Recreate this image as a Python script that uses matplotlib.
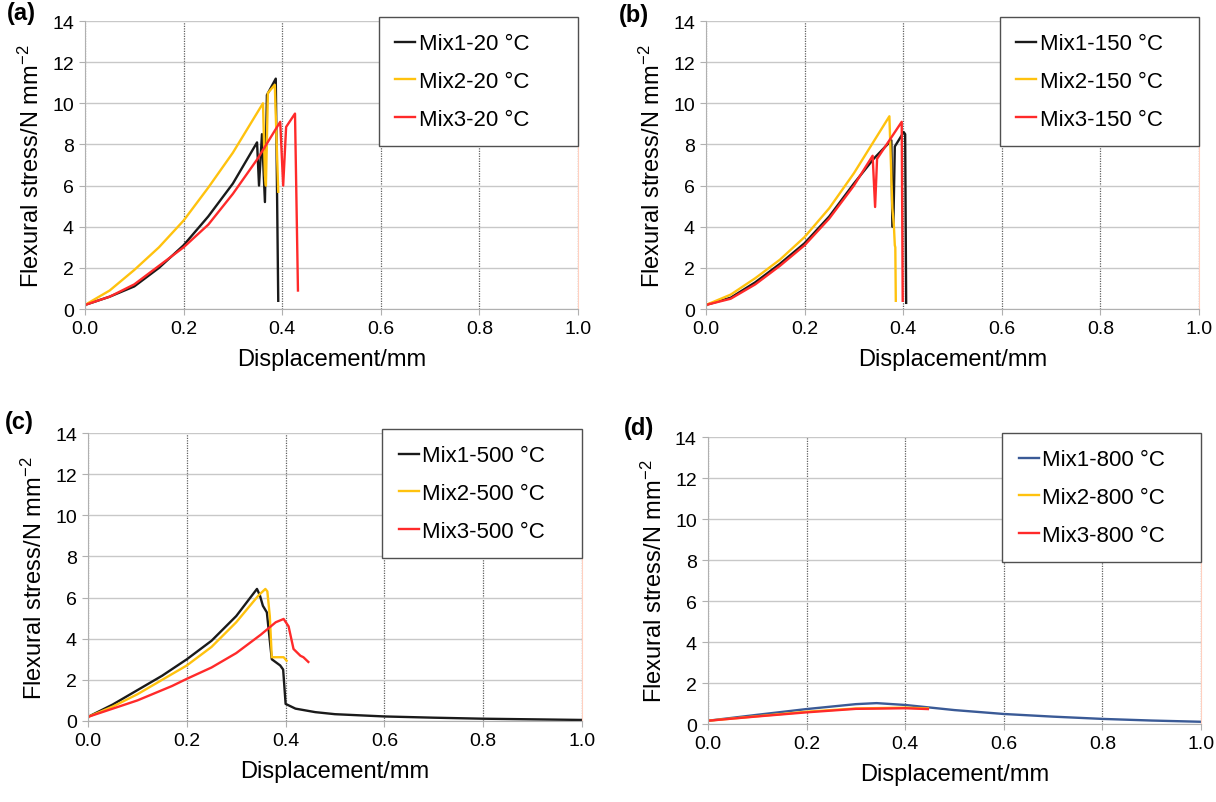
"""
Flexural stress vs displacement for three mixes at four temperatures.
Four panels (a)-(d), values read off the reference figure.
"""
import matplotlib
matplotlib.use("Agg")
import matplotlib.pyplot as plt

# ─────────────────────────────────────────────
#  Data — (a) 20 °C
# ─────────────────────────────────────────────
mix1_20_x = [0, 0.05, 0.1, 0.15, 0.2, 0.25, 0.3, 0.349, 0.353, 0.359, 0.365, 0.369, 0.387, 0.392]
mix1_20_y = [0.2, 0.6, 1.1, 2.0, 3.1, 4.5, 6.1, 8.1, 6.0, 8.5, 5.2, 10.4, 11.2, 0.4]
mix2_20_x = [0, 0.05, 0.1, 0.15, 0.2, 0.25, 0.3, 0.361, 0.365, 0.367, 0.371, 0.385, 0.392]
mix2_20_y = [0.2, 0.9, 1.9, 3.0, 4.3, 5.9, 7.6, 10.0, 6.5, 6.0, 10.5, 10.9, 5.7]
mix3_20_x = [0, 0.05, 0.1, 0.15, 0.2, 0.25, 0.3, 0.35, 0.396, 0.402, 0.408, 0.426, 0.432]
mix3_20_y = [0.2, 0.6, 1.2, 2.1, 3.0, 4.1, 5.6, 7.3, 9.1, 6.0, 8.85, 9.5, 0.9]

# ─────────────────────────────────────────────
#  Data — (b) 150 °C
# ─────────────────────────────────────────────
mix1_150_x = [0, 0.05, 0.1, 0.15, 0.2, 0.25, 0.3, 0.34, 0.376, 0.378, 0.38, 0.383, 0.401, 0.404, 0.406]
mix1_150_y = [0.2, 0.55, 1.3, 2.2, 3.2, 4.5, 6.1, 7.3, 8.2, 4.0, 4.0, 7.9, 8.6, 8.5, 0.3]
mix2_150_x = [0, 0.05, 0.1, 0.15, 0.2, 0.25, 0.3, 0.372, 0.378, 0.381, 0.383, 0.384, 0.385]
mix2_150_y = [0.2, 0.7, 1.5, 2.4, 3.5, 4.9, 6.6, 9.37, 4.9, 4.1, 3.1, 3.0, 0.4]
mix3_150_x = [0, 0.05, 0.1, 0.15, 0.2, 0.25, 0.3, 0.338, 0.343, 0.347, 0.397, 0.399]
mix3_150_y = [0.2, 0.5, 1.2, 2.1, 3.1, 4.4, 6.0, 7.45, 4.96, 7.3, 9.1, 0.4]

# ─────────────────────────────────────────────
#  Data — (c) 500 °C
# ─────────────────────────────────────────────
mix1_500_x = [0, 0.05, 0.1, 0.15, 0.2, 0.25, 0.3, 0.342, 0.348, 0.354, 0.362, 0.372, 0.389,
              0.395, 0.40, 0.42, 0.46, 0.5, 0.6, 0.7, 0.8, 0.9, 1.0]
mix1_500_y = [0.2, 0.8, 1.5, 2.2, 3.0, 3.9, 5.1, 6.42, 6.1, 5.6, 5.28, 3.0, 2.7,
              2.5, 0.83, 0.6, 0.43, 0.33, 0.22, 0.16, 0.11, 0.08, 0.05]
mix2_500_x = [0, 0.05, 0.1, 0.15, 0.2, 0.25, 0.3, 0.345, 0.359, 0.363, 0.368, 0.372, 0.396, 0.402]
mix2_500_y = [0.2, 0.7, 1.3, 2.0, 2.7, 3.6, 4.8, 6.1, 6.42, 6.3, 5.1, 3.1, 3.1, 2.93]
mix3_500_x = [0, 0.05, 0.1, 0.17, 0.2, 0.25, 0.3, 0.35, 0.38, 0.396, 0.406, 0.416, 0.43, 0.436, 0.446]
mix3_500_y = [0.2, 0.6, 1.0, 1.7, 2.05, 2.6, 3.3, 4.2, 4.8, 4.96, 4.6, 3.5, 3.17, 3.1, 2.87]

# ─────────────────────────────────────────────
#  Data — (d) 800 °C
# ─────────────────────────────────────────────
mix1_800_x = [0, 0.1, 0.2, 0.3, 0.342, 0.4, 0.5, 0.6, 0.7, 0.8, 0.9, 1.0]
mix1_800_y = [0.16, 0.45, 0.73, 0.97, 1.02, 0.93, 0.68, 0.49, 0.36, 0.25, 0.17, 0.11]
mix2_800_x = [0, 0.1, 0.2, 0.3, 0.4, 0.446]
mix2_800_y = [0.16, 0.38, 0.6, 0.76, 0.8, 0.76]
mix3_800_x = [0, 0.1, 0.2, 0.3, 0.4, 0.446]
mix3_800_y = [0.16, 0.37, 0.57, 0.74, 0.77, 0.73]

x_ticks = [0.0, 0.2, 0.4, 0.6, 0.8, 1.0]
y_ticks = [0, 2, 4, 6, 8, 10, 12, 14]

NOIR = "#1a1a1a"
JAUNE = "#ffc20e"
ROUGE = "#ff2a2a"
BLEU = "#3a5a96"

plt.rcParams["font.family"] = ["Liberation Sans", "DejaVu Sans"]
plt.rcParams["mathtext.fontset"] = "custom"
plt.rcParams["mathtext.rm"] = "Liberation Sans"
plt.rcParams["mathtext.default"] = "regular"


def tracer_panneau(fig, pos, label, label_pos, series, temp):
    """Draws one panel: three curves, grid, legend and panel letter."""
    ax = fig.add_axes(pos)
    for (x, y, couleur, nom) in series:
        ax.plot(x, y, color=couleur, lw=1.7, label=f"{nom}-{temp} °C")

    ax.set_xlim(0, 1.0)
    ax.set_ylim(0, 14)
    ax.set_xticks(x_ticks)
    ax.set_xticklabels([f"{v:.1f}" for v in x_ticks])
    ax.set_yticks(y_ticks)
    ax.tick_params(labelsize=14, length=4, color="#b0b0b0", pad=4)

    # horizontal grid solid, vertical grid dotted
    ax.yaxis.grid(True, color="#c8c8c8", lw=1.0)
    ax.xaxis.grid(True, color="#606060", lw=0.9, ls=(0, (1, 1)))
    ax.set_axisbelow(True)
    for s in ["left", "bottom"]:
        ax.spines[s].set_color("#b0b0b0")
    ax.spines["top"].set_visible(False)
    ax.spines["right"].set_color("#ffd0c0")

    ax.set_xlabel("Displacement/mm", fontsize=17, labelpad=8)
    ax.set_ylabel("Flexural stress/N mm$^{-2}$", fontsize=17, labelpad=6)

    # legend box spans the right 40 % of the axes
    leg = ax.legend(loc="upper left", bbox_to_anchor=(0.596, 1.015, 0.404, 0.0),
                    mode="expand", fontsize=16,
                    handlelength=0.9, handletextpad=0.15, borderpad=0.75,
                    labelspacing=0.75, fancybox=False, framealpha=1,
                    borderaxespad=0.0)
    leg.get_frame().set_edgecolor("#505050")
    leg.get_frame().set_linewidth(1.0)

    fig.text(label_pos[0], label_pos[1], label, fontsize=17, fontweight="bold",
             ha="left", va="top")
    return ax


def main():
    fig = plt.figure(figsize=(12.16, 8.03), dpi=100)

    tracer_panneau(fig, [0.0699, 0.6139, 0.4054, 0.3587], "(a)", (0.006, 0.998),
                   [(mix1_20_x, mix1_20_y, NOIR, "Mix1"),
                    (mix2_20_x, mix2_20_y, JAUNE, "Mix2"),
                    (mix3_20_x, mix3_20_y, ROUGE, "Mix3")], "20")

    tracer_panneau(fig, [0.5806, 0.6139, 0.4054, 0.3587], "(b)", (0.509, 0.995),
                   [(mix1_150_x, mix1_150_y, NOIR, "Mix1"),
                    (mix2_150_x, mix2_150_y, JAUNE, "Mix2"),
                    (mix3_150_x, mix3_150_y, ROUGE, "Mix3")], "150")

    tracer_panneau(fig, [0.0724, 0.1009, 0.4062, 0.3586], "(c)", (0.004, 0.488),
                   [(mix1_500_x, mix1_500_y, NOIR, "Mix1"),
                    (mix2_500_x, mix2_500_y, JAUNE, "Mix2"),
                    (mix3_500_x, mix3_500_y, ROUGE, "Mix3")], "500")

    tracer_panneau(fig, [0.5822, 0.0971, 0.4055, 0.3574], "(d)", (0.513, 0.481),
                   [(mix1_800_x, mix1_800_y, BLEU, "Mix1"),
                    (mix2_800_x, mix2_800_y, JAUNE, "Mix2"),
                    (mix3_800_x, mix3_800_y, ROUGE, "Mix3")], "800")

    fig.savefig("out.png", dpi=100)


if __name__ == "__main__":
    main()
